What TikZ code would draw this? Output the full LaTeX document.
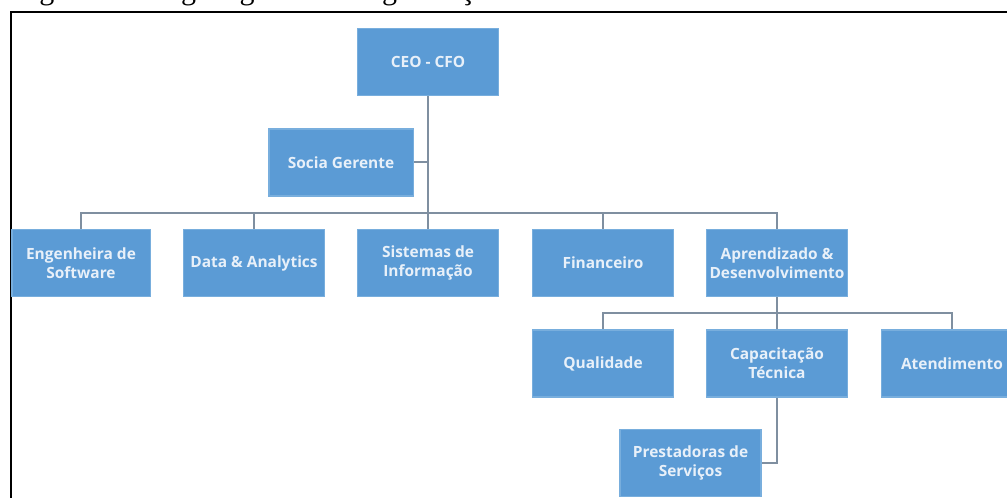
\documentclass[tikz,border=0pt]{standalone}
\usepackage{fontspec}
\setmainfont{Open Sans}
\newfontfamily\captionserif{Liberation Serif}
\begin{document}
\begin{tikzpicture}[x=0.75pt,y=-0.75pt,
  orgbox/.style={rectangle,fill=boxblue,draw=boxedge,line width=0.6pt,
    minimum width=105.5pt,minimum height=50pt,inner sep=1pt,
    align=center,text=boxtext,font=\bfseries\fontsize{11.6}{14.2}\selectfont},
  link/.style={draw=linkgray,line width=1.5pt},
  frameline/.style={draw=black,line width=1.3pt}]
\definecolor{boxblue}{HTML}{5B9BD5}
\definecolor{boxedge}{HTML}{78AEDD}
\definecolor{boxtext}{HTML}{E8F0F9}
\definecolor{linkgray}{HTML}{7F8FA0}
\useasboundingbox (0,0) rectangle (1007,498);
\clip (0,0) rectangle (1007,498);

% caption of the figure, running above the frame
\node[anchor=base west,inner sep=0pt,font=\captionserif\fontsize{22.5}{26}\selectfont]
  (caption) at (14,0) {Figura 1 -- Organograma da organização};

% frame
\coordinate (frameTL) at (11,12);
\coordinate (frameTR) at (1008,12);
\coordinate (frameBL) at (11,499);
\draw[frameline] (frameTR) -- (frameTL) -- (frameBL);

% boxes
\node[orgbox] (ceo)   at (428,62)    {CEO - CFO};
\node[orgbox,minimum width=108pt] (socia) at (341,162.5) {Socia Gerente};
\node[orgbox,minimum width=103.5pt] (eng)   at (81,263)  {Engenheira de\\Software};
\node[orgbox] (data)  at (254,263)   {Data \& Analytics};
\node[orgbox] (sis)   at (428,263)   {Sistemas de\\Informação};
\node[orgbox] (fin)   at (603,263)   {Financeiro};
\node[orgbox] (apr)   at (777,263)   {Aprendizado \&\\Desenvolvimento};
\node[orgbox] (qual)  at (603,363.5) {Qualidade};
\node[orgbox] (cap)   at (777,363.5) {Capacitação\\Técnica};
\node[orgbox] (aten)  at (952,363.5) {Atendimento};
\node[orgbox] (prest) at (690.5,463) {Prestadoras de\\Serviços};

% junction points of the connectors
\coordinate (barA) at (428,213);
\coordinate (barB) at (777,313);

% first level
\draw[link] (ceo.south) -- (sis.north);
\draw[link] (socia.east) -- (socia.east -| ceo.south);
\draw[link] (eng.north) |- (barA) -| (apr.north);
\draw[link] (data.north) -- (data.north |- barA);
\draw[link] (fin.north) -- (fin.north |- barA);

% second level
\draw[link] (apr.south) -- (cap.north);
\draw[link] (qual.north) |- (barB) -| (aten.north);

% third level
\draw[link] (cap.south) |- (prest.east);

% redraw the box outlines over the connector ends
\foreach \n in {ceo,socia,eng,data,sis,fin,apr,qual,cap,aten,prest}{
  \draw[boxedge,line width=0.6pt] (\n.north west) rectangle (\n.south east);
}
\end{tikzpicture}
\end{document}
